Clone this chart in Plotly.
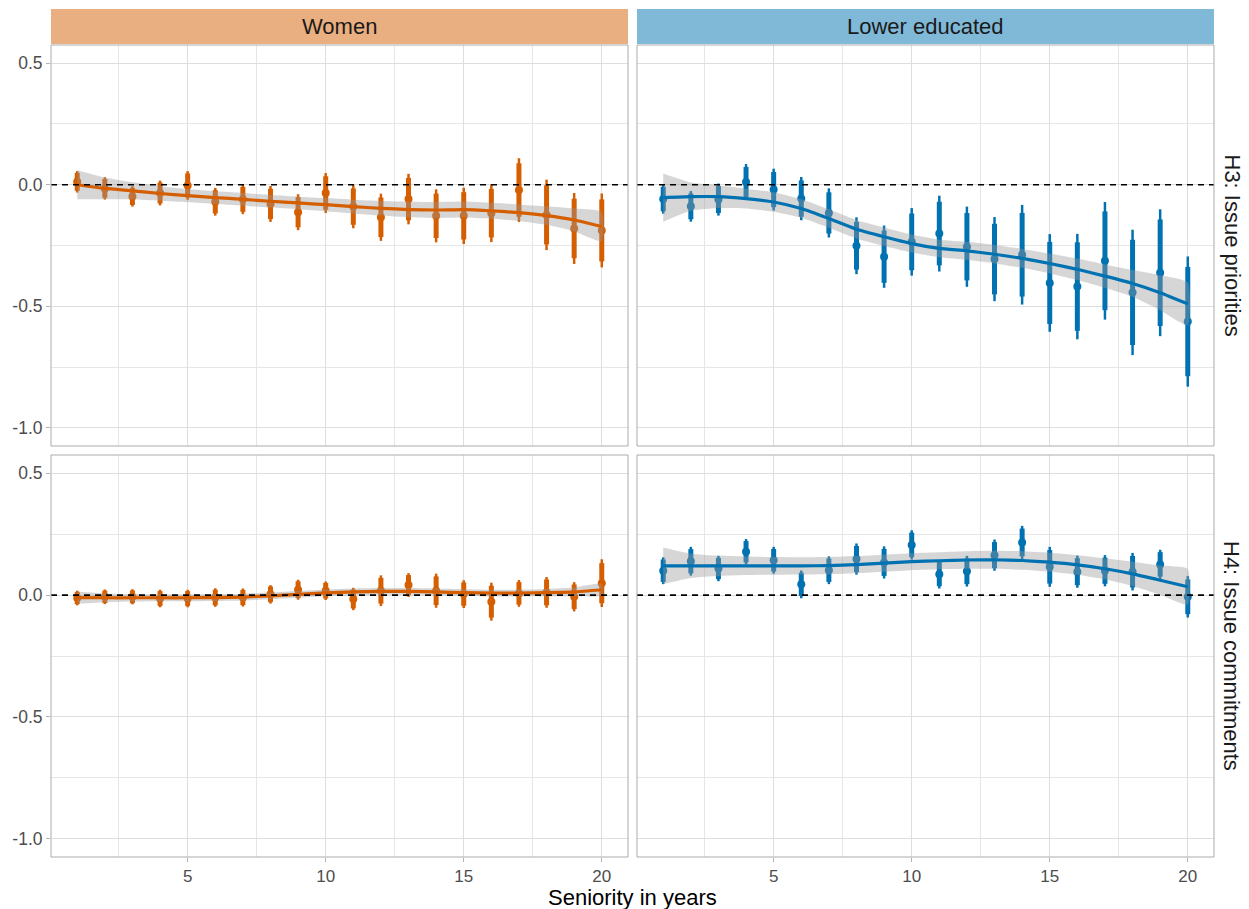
import plotly.graph_objects as go

# ---------------- data ----------------
seniority = list(range(1, 21))

# Women, H3: Issue priorities
women_h3_est = [0.012, -0.015, -0.048, -0.034, -0.003, -0.070, -0.060, -0.079, -0.113, -0.034,
                -0.090, -0.134, -0.059, -0.128, -0.128, -0.117, -0.022, -0.124, -0.180, -0.188]
women_h3_ci95 = [0.044, 0.046, 0.042, 0.051, 0.059, 0.057, 0.061, 0.074, 0.074, 0.082,
                 0.089, 0.097, 0.104, 0.109, 0.116, 0.119, 0.131, 0.145, 0.146, 0.152]
women_h3_fit = [0.000, -0.015, -0.025, -0.036, -0.045, -0.053, -0.060, -0.068, -0.075, -0.082,
                -0.090, -0.097, -0.102, -0.104, -0.102, -0.107, -0.115, -0.127, -0.145, -0.172]
women_h3_band = [0.060, 0.045, 0.035, 0.030, 0.027, 0.026, 0.026, 0.026, 0.026, 0.027,
                 0.028, 0.030, 0.032, 0.033, 0.033, 0.033, 0.034, 0.038, 0.047, 0.060]

# Lower educated, H3: Issue priorities
lowedu_h3_est = [-0.059, -0.089, -0.061, 0.011, -0.020, -0.057, -0.116, -0.251, -0.296, -0.235,
                 -0.201, -0.255, -0.306, -0.288, -0.404, -0.419, -0.313, -0.443, -0.362, -0.563]
lowedu_h3_ci95 = [0.060, 0.063, 0.066, 0.074, 0.086, 0.089, 0.101, 0.117, 0.128, 0.139,
                  0.156, 0.165, 0.173, 0.205, 0.201, 0.217, 0.242, 0.258, 0.261, 0.268]
lowedu_h3_fit = [-0.053, -0.049, -0.049, -0.057, -0.071, -0.098, -0.139, -0.183, -0.214, -0.242,
                 -0.262, -0.272, -0.286, -0.303, -0.324, -0.348, -0.376, -0.406, -0.444, -0.490]
lowedu_h3_band = [0.099, 0.058, 0.047, 0.041, 0.040, 0.038, 0.038, 0.038, 0.038, 0.037,
                  0.036, 0.037, 0.038, 0.039, 0.041, 0.044, 0.048, 0.055, 0.072, 0.088]

# Women, H4: Issue commitments
women_h4_est = [-0.012, -0.007, -0.007, -0.014, -0.014, -0.010, -0.010, 0.003, 0.022, 0.018,
                -0.016, 0.018, 0.041, 0.018, 0.004, -0.027, 0.007, 0.011, -0.007, 0.049]
women_h4_ci95 = [0.030, 0.030, 0.031, 0.036, 0.036, 0.038, 0.037, 0.038, 0.041, 0.038,
                 0.046, 0.063, 0.049, 0.070, 0.057, 0.078, 0.055, 0.063, 0.060, 0.098]
women_h4_fit = [-0.010, -0.011, -0.011, -0.011, -0.011, -0.010, -0.008, -0.003, 0.003, 0.009,
                0.013, 0.015, 0.015, 0.013, 0.010, 0.008, 0.008, 0.010, 0.013, 0.022]
women_h4_band = [0.025, 0.018, 0.015, 0.014, 0.014, 0.014, 0.014, 0.014, 0.014, 0.014,
                 0.014, 0.014, 0.014, 0.014, 0.014, 0.014, 0.014, 0.015, 0.018, 0.024]

# Lower educated, H4: Issue commitments
lowedu_h4_est = [0.100, 0.139, 0.109, 0.178, 0.143, 0.044, 0.102, 0.148, 0.134, 0.206,
                 0.086, 0.098, 0.164, 0.216, 0.116, 0.096, 0.100, 0.096, 0.126, -0.007]
lowedu_h4_ci95 = [0.055, 0.059, 0.052, 0.052, 0.055, 0.057, 0.057, 0.064, 0.066, 0.060,
                  0.059, 0.063, 0.064, 0.068, 0.082, 0.066, 0.064, 0.077, 0.060, 0.085]
lowedu_h4_fit = [0.120, 0.120, 0.120, 0.120, 0.120, 0.120, 0.121, 0.125, 0.131, 0.137,
                 0.141, 0.144, 0.145, 0.142, 0.135, 0.124, 0.108, 0.087, 0.061, 0.034]
lowedu_h4_band = [0.075, 0.050, 0.042, 0.038, 0.036, 0.035, 0.035, 0.035, 0.035, 0.035,
                  0.035, 0.036, 0.037, 0.038, 0.039, 0.040, 0.043, 0.050, 0.060, 0.073]

column_labels = ["Women", "Lower educated"]
row_labels = ["H3: Issue priorities", "H4: Issue commitments"]
x_title = "Seniority in years"

x_tick_vals = [5, 10, 15, 20]
x_tick_text = ["5", "10", "15", "20"]
x_minor_vals = [2.5, 7.5, 12.5, 17.5]
y_tick_vals = [-1.0, -0.5, 0.0, 0.5]
y_tick_text = ["-1.0", "-0.5", "0.0", "0.5"]
y_minor_vals = [-0.75, -0.25, 0.25]
reference_value = 0.0

# ---------------- styling ----------------
W, H = 1249, 909
ORANGE = "#D55E00"
BLUE = "#0072B2"
STRIP = {"Women": "#EAAF80", "Lower educated": "#80B8D8"}
FONT = "Liberation Sans, Arial, sans-serif"
Z_RATIO = 1.645 / 1.96

px_x = [(51, 628), (637, 1214)]
px_y = [(45, 446), (455, 857)]

panels = [
    # (row, col, est, ci95, fit, band, color)
    (0, 0, women_h3_est, women_h3_ci95, women_h3_fit, women_h3_band, ORANGE),
    (0, 1, lowedu_h3_est, lowedu_h3_ci95, lowedu_h3_fit, lowedu_h3_band, BLUE),
    (1, 0, women_h4_est, women_h4_ci95, women_h4_fit, women_h4_band, ORANGE),
    (1, 1, lowedu_h4_est, lowedu_h4_ci95, lowedu_h4_fit, lowedu_h4_band, BLUE),
]

fig = go.Figure()
shapes = []
annotations = []
layout_axes = {}

for i, (r, c, est, ci95, fit, band, col) in enumerate(panels):
    n = i + 1
    xa = "x" if n == 1 else f"x{n}"
    ya = "y" if n == 1 else f"y{n}"
    ci90 = [v * Z_RATIO for v in ci95]
    upper = [f + b for f, b in zip(fit, band)]
    lower = [f - b for f, b in zip(fit, band)]

    # thin 95% interval + point
    fig.add_trace(go.Scatter(
        x=seniority, y=est, mode="markers", xaxis=xa, yaxis=ya,
        marker=dict(size=8, color=col),
        error_y=dict(type="data", array=ci95, symmetric=True, thickness=2.5, width=0, color=col),
        showlegend=False, hoverinfo="skip"))
    # thick 90% interval
    fig.add_trace(go.Scatter(
        x=seniority, y=est, mode="markers", xaxis=xa, yaxis=ya,
        marker=dict(size=1, color=col, opacity=0),
        error_y=dict(type="data", array=ci90, symmetric=True, thickness=5, width=0, color=col),
        showlegend=False, hoverinfo="skip"))
    # confidence ribbon of the smoother
    fig.add_trace(go.Scatter(
        x=seniority + seniority[::-1], y=upper + lower[::-1], mode="lines",
        xaxis=xa, yaxis=ya, fill="toself", fillcolor="rgba(153,153,153,0.4)",
        line=dict(width=0, shape="spline", smoothing=0.5),
        showlegend=False, hoverinfo="skip"))
    # smoother line
    fig.add_trace(go.Scatter(
        x=seniority, y=fit, mode="lines", xaxis=xa, yaxis=ya,
        line=dict(color=col, width=3.2, shape="spline", smoothing=0.5),
        showlegend=False, hoverinfo="skip"))

    x0, x1 = px_x[c]
    y0, y1 = px_y[r]
    bottom = r == 1
    left = c == 0
    xkey = "xaxis" if n == 1 else f"xaxis{n}"
    ykey = "yaxis" if n == 1 else f"yaxis{n}"
    layout_axes[xkey] = dict(
        domain=[x0 / W, x1 / W], anchor=ya, range=[0.05, 20.95],
        tickmode="array", tickvals=x_tick_vals, ticktext=x_tick_text,
        showticklabels=bottom, ticks="outside" if bottom else "", ticklen=4,
        tickcolor="#B3B3B3", tickwidth=1,
        tickfont=dict(family=FONT, size=17, color="#4D4D4D"),
        showgrid=True, gridcolor="#DEDEDE", gridwidth=1,
        minor=dict(tickmode="array", tickvals=x_minor_vals, showgrid=True,
                   gridcolor="#E6E6E6", gridwidth=0.6),
        zeroline=False, showline=False, automargin=False)
    layout_axes[ykey] = dict(
        domain=[1 - y1 / H, 1 - y0 / H], anchor=xa, range=[-1.075, 0.575],
        tickmode="array", tickvals=y_tick_vals, ticktext=y_tick_text,
        showticklabels=left, ticks="outside" if left else "", ticklen=4,
        tickcolor="#B3B3B3", tickwidth=1,
        tickfont=dict(family=FONT, size=17.5, color="#4D4D4D"),
        showgrid=True, gridcolor="#DEDEDE", gridwidth=1,
        minor=dict(tickmode="array", tickvals=y_minor_vals, showgrid=True,
                   gridcolor="#E6E6E6", gridwidth=0.6),
        zeroline=False, showline=False, automargin=False)

    # dashed reference line
    shapes.append(dict(type="line", xref=f"{xa} domain", x0=0, x1=1, yref=ya,
                       y0=reference_value, y1=reference_value, layer="above",
                       line=dict(color="black", width=1.6, dash="6px,5px")))
    # panel border
    shapes.append(dict(type="rect", xref=f"{xa} domain", yref=f"{ya} domain",
                       x0=0, x1=1, y0=0, y1=1, layer="above",
                       line=dict(color="#ABABAB", width=1)))

# column strips
for c, lab in enumerate(column_labels):
    x0, x1 = px_x[c]
    shapes.append(dict(type="rect", xref="paper", yref="paper",
                       x0=x0 / W, x1=x1 / W, y0=1 - 44 / H, y1=1 - 9 / H,
                       fillcolor=STRIP[lab], line=dict(width=0), layer="below"))
    annotations.append(dict(text=lab, xref="paper", yref="paper",
                            x=(x0 + x1) / 2 / W, y=1 - 26.5 / H, showarrow=False,
                            xanchor="center", yanchor="middle",
                            font=dict(family=FONT, size=22, color="#1A1A1A")))

# row strips (text only)
for r, lab in enumerate(row_labels):
    y0, y1 = px_y[r]
    annotations.append(dict(text=lab, xref="paper", yref="paper",
                            x=1232 / W, y=1 - (y0 + y1) / 2 / H, showarrow=False,
                            textangle=90, xanchor="center", yanchor="middle",
                            font=dict(family=FONT, size=22, color="#1A1A1A")))

# x-axis title
annotations.append(dict(text=x_title, xref="paper", yref="paper",
                        x=(51 + 1214) / 2 / W, y=1 - 897.5 / H, showarrow=False,
                        xanchor="center", yanchor="middle",
                        font=dict(family=FONT, size=22, color="black")))

fig.update_layout(
    template="none", width=W, height=H,
    margin=dict(l=0, r=0, t=0, b=0),
    paper_bgcolor="white", plot_bgcolor="white",
    shapes=shapes, annotations=annotations, showlegend=False,
    **layout_axes)

fig.write_html(
    "out.html",
    config={"displayModeBar": False},
    post_script="document.body.style.margin='0px';document.body.style.overflow='hidden';",
)
